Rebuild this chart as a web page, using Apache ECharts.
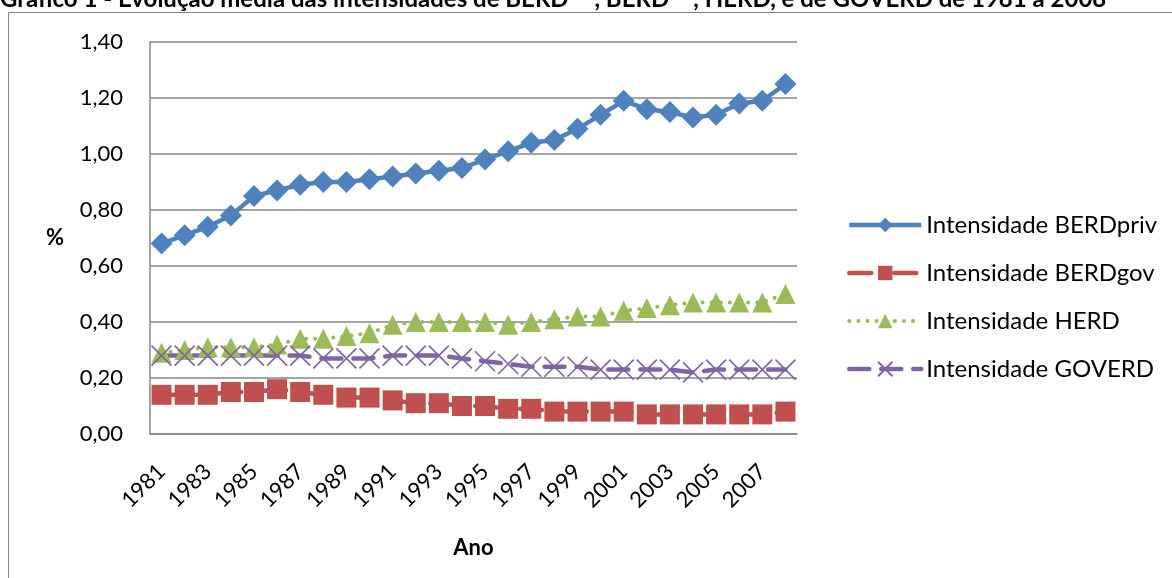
<!DOCTYPE html>
<html>
<head>
<meta charset="utf-8">
<script src="https://cdn.jsdelivr.net/npm/echarts@6/dist/echarts.min.js"></script>
<style>
  html, body { margin: 0; padding: 0; background: #fff; }
  #chart { width: 1172px; height: 578px; }
</style>
</head>
<body>
<div id="chart"></div>
<script>
// Anos observados
const years = ['1981','1982','1983','1984','1985','1986','1987','1988','1989','1990',
  '1991','1992','1993','1994','1995','1996','1997','1998','1999','2000',
  '2001','2002','2003','2004','2005','2006','2007','2008'];

// Intensidades médias (% do PIB)
const berdPriv = [0.68,0.71,0.74,0.78,0.85,0.87,0.89,0.90,0.90,0.91,
  0.92,0.93,0.94,0.95,0.98,1.01,1.04,1.05,1.09,1.14,
  1.19,1.16,1.15,1.13,1.14,1.18,1.19,1.25];
const berdGov = [0.14,0.14,0.14,0.15,0.15,0.16,0.15,0.14,0.13,0.13,
  0.12,0.11,0.11,0.10,0.10,0.09,0.09,0.08,0.08,0.08,
  0.08,0.07,0.07,0.07,0.07,0.07,0.07,0.08];
const herd = [0.29,0.30,0.31,0.31,0.31,0.32,0.34,0.34,0.35,0.36,
  0.39,0.40,0.40,0.40,0.40,0.39,0.40,0.41,0.42,0.42,
  0.44,0.45,0.46,0.47,0.47,0.47,0.47,0.50];
const goverd = [0.28,0.28,0.28,0.28,0.28,0.28,0.28,0.27,0.27,0.27,
  0.28,0.28,0.28,0.27,0.26,0.25,0.24,0.24,0.24,0.23,
  0.23,0.23,0.23,0.22,0.23,0.23,0.23,0.23];

const yTicks = { min: 0, max: 1.4, interval: 0.2 };

const FONT = 'Lato';
const chart = echarts.init(document.getElementById('chart'));

const crossPath = 'path://M0,0L10,10M10,0L0,10';

chart.setOption({
  backgroundColor: '#fff',
  animation: false,
  textStyle: { fontFamily: FONT },
  title: {
    text: '{m|Gráfico 1 - Evolução média das intensidades de BERD}{s|priv}{m|, BERD}{s|gov}{m|, HERD, e de GOVERD de 1981 a 2008}',
    left: 0,
    top: -18,
    padding: 0,
    textStyle: {
      fontFamily: FONT,
      fontSize: 24,
      fontWeight: 'bold',
      color: '#000',
      rich: {
        m: { fontFamily: FONT, fontSize: 24, fontWeight: 'bold', color: '#000', verticalAlign: 'bottom' },
        s: { fontFamily: FONT, fontSize: 15, fontWeight: 'bold', color: '#000', verticalAlign: 'bottom', padding: [0, 0, 14, 0] }
      }
    }
  },
  graphic: [{
    type: 'rect',
    shape: { x: 8.5, y: 12.5, width: 1300, height: 700 },
    style: { fill: 'none', stroke: '#868686', lineWidth: 1 },
    silent: true,
    z: -1
  }],
  grid: { left: 150, right: 375, top: 42, bottom: 144, containLabel: false },
  legend: {
    orient: 'vertical',
    left: 847,
    top: 213,
    padding: 0,
    itemWidth: 72,
    itemHeight: 18,
    itemGap: 24,
    lineStyle: { width: 'inherit' },
    textStyle: { fontFamily: FONT, fontSize: 24, color: '#000' },
    data: ['Intensidade BERDpriv', 'Intensidade BERDgov', 'Intensidade HERD', 'Intensidade GOVERD']
  },
  xAxis: {
    type: 'category',
    data: years,
    boundaryGap: true,
    name: 'Ano',
    nameLocation: 'middle',
    nameGap: 103,
    nameTextStyle: { fontFamily: FONT, fontSize: 22, fontWeight: 'bold', color: '#000' },
    axisLine: { lineStyle: { color: '#868686', width: 1.5 } },
    axisTick: { show: false },
    axisLabel: {
      interval: 1,
      rotate: 45,
      margin: 34,
      fontFamily: FONT,
      fontSize: 22,
      color: '#000'
    },
    splitLine: { show: false }
  },
  yAxis: {
    type: 'value',
    min: yTicks.min,
    max: yTicks.max,
    interval: yTicks.interval,
    name: '%',
    nameLocation: 'middle',
    nameRotate: 0,
    nameGap: 86,
    nameTextStyle: { fontFamily: FONT, fontSize: 22, fontWeight: 'bold', color: '#000' },
    axisLine: { show: true, lineStyle: { color: '#868686', width: 1.5 } },
    axisTick: { show: false },
    axisLabel: {
      margin: 27,
      fontFamily: FONT,
      fontSize: 22,
      color: '#000',
      formatter: v => v.toFixed(2).replace('.', ',')
    },
    splitLine: { lineStyle: { color: '#868686', width: 1.5 } }
  },
  series: [
    {
      name: 'Intensidade BERDpriv',
      type: 'line',
      data: berdPriv,
      symbol: 'diamond',
      symbolSize: 22,
      showAllSymbol: true,
      lineStyle: { color: '#4F81BD', width: 4.5 },
      itemStyle: { color: '#4F81BD' }
    },
    {
      name: 'Intensidade BERDgov',
      type: 'line',
      data: berdGov,
      symbol: 'rect',
      symbolSize: 20,
      showAllSymbol: true,
      lineStyle: { color: '#C0504D', width: 4.5, type: [22, 10, 3, 10], cap: 'round' },
      itemStyle: { color: '#C0504D' }
    },
    {
      name: 'Intensidade HERD',
      type: 'line',
      data: herd,
      symbol: 'triangle',
      symbolSize: 20,
      showAllSymbol: true,
      lineStyle: { color: '#9BBB59', width: 4, type: [0.1, 9], cap: 'round' },
      itemStyle: { color: '#9BBB59' }
    },
    {
      name: 'Intensidade GOVERD',
      type: 'line',
      data: goverd,
      symbol: crossPath,
      symbolSize: 20,
      showAllSymbol: true,
      lineStyle: { color: '#8064A2', width: 4.5, type: [20, 12], cap: 'round' },
      itemStyle: { color: '#8064A2', borderColor: '#8064A2', borderWidth: 1.6 }
    }
  ]
});
</script>
</body>
</html>
